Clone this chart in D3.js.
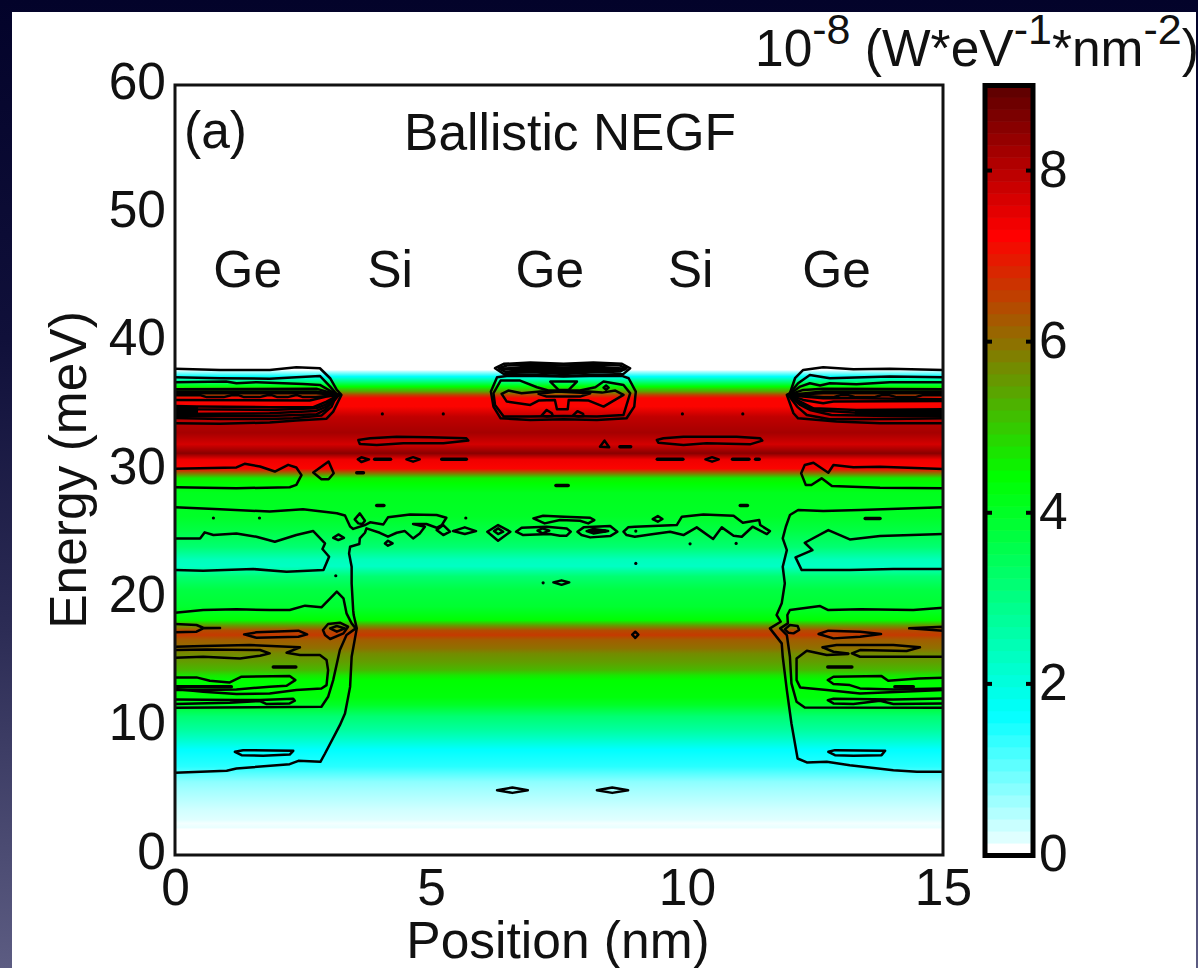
<!DOCTYPE html>
<html><head><meta charset="utf-8">
<style>html,body{margin:0;padding:0;background:#05052a;overflow:hidden}svg{display:block}text{font-family:"Liberation Sans",Arial,sans-serif;fill:#111}</style>
<script src="https://cdn.jsdelivr.net/npm/d3@7"></script>
</head><body><svg id="c" width="1198" height="968"></svg>
<script>
// ---- data ----
const xTicks=[0,5,10,15];
const yTicks=[0,10,20,30,40,50,60];
const barTicks=[0,2,4,6,8];
const regionLabels=[["Ge",1.42],["Si",4.2],["Ge",7.32],["Si",10.07],["Ge",12.92]];
const energies=[0,2.0,2.15,2.47,2.73,3.5,4,5.05,5.7,6.36,6.9,8.2,8.96,9.74,10.8,11.7,12.3,13.6,14,14.4,15.06,15.7,16.1,16.75,17.14,17.5,17.9,18.3,19.35,20.65,21.7,22.5,23,24,25.3,26.4,28.2,28.97,29.36,29.75,30.1,30.8,31.3,32,32.9,34.15,34.95,35.6,35.85,36.1,36.5,36.9,37.28,37.67,37.8];
const intensity=[0,0,.14,.08,.2,.3,.4,.6,.75,1.1,1.4,1.66,2.2,2.7,3.2,4.0,4.3,4.42,4.7,5.2,5.5,5.7,6,6.2,6.6,6.4,5.5,4.4,3.9,3.7,3.2,2.3,2.4,3.2,3.7,4,4.1,4.42,4.6,6,7.2,7.4,8.5,7.7,8.2,7.9,7.2,7.2,6.5,5.5,4.4,3,1.7,.5,0];
const colorStops=[0,1.66,4.42,7.24,9];
const colorValues=["#ffffff","#00ffff","#00ff00","#ff0000","#5a0000"];
const colorLevels=64;

// open contour lines (position nm, energy meV)
const leftGeLines=[
[[0,37.88],[.88,37.8],[1.85,37.8],[2.37,38],[2.83,37.93],[3.03,37.15],[3.16,36.24],[3.25,35.85],[3.09,34.55],[2.96,34],[2.37,33.85],[1.85,33.7],[.88,33.6],[0,33.65]],
[[0,37.23],[.88,37.15],[1.85,37.12],[2.37,37.23],[2.83,37.33],[3.03,36.5],[3.16,35.9],[3.06,34.94],[2.86,34.24],[2.31,34.03],[1.85,33.98],[.88,33.98],[0,34.06]],
[[0,36.84],[1,36.89],[1.2,36.76],[1.6,36.84],[2.5,36.71],[2.83,36.63],[3.09,36.03],[3.2,35.85],[3.12,35.46],[2.93,34.68],[2.76,34.34],[1.85,34.21],[0,34.21]],
[[0,36.29],[2.76,36.34],[3.03,36.03],[3.2,35.85],[2.96,34.94],[2.76,34.6],[1.85,34.42],[0,34.36]],
[[0,36.11],[2.76,36.11],[3.2,35.85],[2.93,35.07],[2.76,34.81],[1.85,34.68],[.42,34.73],[0,34.81]],
[[0,35.98],[2.76,35.98],[3.2,35.85]],
[[0,35.82],[.5,35.82],[.62,35.68],[.95,35.68],[1.1,35.82],[1.25,35.82],[1.35,35.68],[1.65,35.68],[1.8,35.82],[1.9,35.82],[2,35.68],[2.2,35.68],[2.35,35.82],[2.4,35.82],[2.5,35.68],[2.75,35.68],[3.2,35.85]],
[[0,35.46],[2.63,35.41],[2.96,35.72],[3.2,35.85]],
[[0,34.99],[.42,34.94],[1.85,34.89],[2.7,34.89],[2.96,35.33],[3.2,35.85]],
[[0,34.55],[.42,34.55]],
[[0,30.09],[1.2,30.2],[1.36,30.48],[1.66,30.27],[1.95,29.88],[2.21,30.4],[2.37,30.2],[2.47,29.6],[2.37,28.84],[2.24,28.66],[1.2,28.58],[0,28.66]],
[[0,24.67],[.49,24.67],[.58,25.14],[.75,24.93],[1.2,25.06],[1.59,24.8],[1.95,24.41],[2.37,24.93],[2.7,25.24],[2.93,24.28],[2.88,23.84],[3.01,23.24],[2.9,22.2],[2.18,22.07],[1.53,22.28],[.55,22.15],[0,22.2]],
[[0,18.88],[.55,19.09],[1.2,19.14],[1.85,19.09],[2.24,19.09],[2.54,19.43],[2.86,19.3],[3.16,20.52],[3.29,20],[3.35,18.83],[3.45,18.05],[3.53,17.66],[3.35,17.14],[3.22,15.97],[3.09,13.63],[2.99,12.33],[2.86,11.55],[0,11.47]],
[[0,18],[.42,17.92],[.55,17.71],[.88,17.69],[.55,17.66],[.42,17.4],[0,17.35]],
[[0,16.23],[.55,16.28],[1.46,16.36],[2.44,16.18],[2.18,15.76],[2.44,15.58],[2.83,15.58],[2.96,15.19],[2.99,14.41],[2.96,13.24],[2.86,12.98],[2.37,12.85],[1.85,12.59],[1.2,12.54],[.55,12.72],[0,12.93]],
[[0,15.97],[.62,16.02],[1.66,15.97],[1.85,15.71],[1.66,15.53],[1.27,15.32],[.55,15.45],[0,15.37]],
[[0,13.84],[.42,13.84],[.68,13.58],[1.07,13.45],[1.3,13.89],[2.24,13.94],[2.35,13.63],[2.18,13.19],[1.85,13.11],[1.2,12.9],[.55,12.85],[0,12.85]],
[[0,12.12],[1.2,12.07],[1.66,12.07],[2.31,12.17],[2.34,12.02],[2.24,11.81],[1.79,11.76],[1.66,12],[1.07,11.86],[0,11.76]],
[[0,27.1],[.88,26.94],[1.85,26.76],[2.5,26.94],[3.16,26.63],[3.32,26.45],[3.42,25.6],[3.48,25.41],[3.71,25.71],[3.81,25.92],[4.07,25.76],[4.16,26.31],[4.59,26.54],[5.11,26.49],[5.3,26.28],[5.21,25.71],[5.11,25.5],[4.91,25.79],[4.65,25.79],[4.88,25.58],[4.78,25.06],[4.65,24.67],[4.49,25.24],[4.33,25.11],[4.16,24.8],[4,25.11],[3.74,25.45],[3.71,25.11],[3.61,24.67],[3.6,24.23],[3.42,24.02],[3.4,23.5],[3.45,22.46],[3.45,21.16],[3.48,19.08],[3.49,18.7],[3.55,17.66],[3.45,15.45],[3.42,13.1],[3.32,11.03],[3.22,10.12],[2.93,7.91],[2.84,7.26],[2.41,7.34],[2.24,7.08],[1.2,6.74],[1.01,6.56],[0,6.4]]
];
const rightGeLines=[
[[15,37.8],[13.96,37.88],[13.25,37.85],[12.66,38],[12.27,37.8],[12.11,37.15],[12.01,35.98],[11.95,35.85],[12.08,34.42],[12.17,34.03],[12.92,33.77],[13.77,33.64],[15,33.64]],
[[15,37.23],[13.96,37.28],[12.79,37.15],[12.4,37.41],[12.17,36.76],[11.98,35.85],[12.15,34.94],[12.34,34.29],[12.79,33.95],[13.96,33.98],[15,34.03]],
[[15,36.84],[13.96,36.84],[13.31,36.68],[12.79,36.76],[12.6,36.58],[12.4,36.76],[12.21,36.5],[11.98,35.85],[12.21,35.07],[12.4,34.68],[12.82,34.29],[13.96,34.21],[15,34.21]],
[[15,36.29],[12.66,36.34],[12.27,36.24],[11.98,35.85],[12.21,35.33],[12.47,34.81],[13.31,34.68],[15,34.73]],
[[15,36.11],[12.66,36.11],[11.98,35.85],[12.27,35.46],[12.66,35.2],[12.86,35.33],[15,35.38]],
[[15,35.98],[12.66,35.98],[11.98,35.85]],
[[15,35.82],[14.6,35.82],[14.45,35.68],[14.1,35.68],[13.95,35.82],[13.8,35.82],[13.65,35.68],[13.3,35.68],[13.15,35.82],[13,35.82],[12.85,35.68],[12.66,35.69],[11.98,35.85]],
[[15,35.51],[13.31,35.59],[12.66,35.59],[12.27,35.72],[11.98,35.85]],
[[15,34.5],[13.31,34.47],[12.6,34.63],[12.34,34.89],[11.98,35.85]],
[[15,34.6],[13.3,34.6]],
[[15,34.35],[13.3,34.35]],
[[15,30.08],[13.77,30.26],[13.25,30.21],[12.86,30.39],[12.76,29.79],[12.47,30.57],[12.3,30.39],[12.23,29.74],[12.32,28.83],[12.43,28.83],[12.63,29.35],[12.83,28.75],[13.77,28.62],[15,28.57]],
[[15,27.09],[13.38,26.88],[12.66,26.8],[12.17,26.88],[12.01,26.49],[11.93,25.58],[11.87,24.67],[11.95,23.76],[11.87,22.46],[11.91,21.16],[11.85,19.61],[11.75,18.7],[11.83,18.18],[11.62,17.66],[11.85,16.49],[11.87,15.45],[11.95,12.85],[12.04,10.25],[12.16,7.52],[12.34,7.21],[12.73,7.26],[13.18,7],[14.03,6.61],[14.49,6.48],[15,6.48]],
[[15,25.01],[13.77,24.85],[13.18,24.59],[12.76,25.32],[12.3,24.33],[12.45,23.76],[12.12,23.19],[12.24,22.2],[13.18,22.2],[14.03,22.28],[15,22.28]],
[[15,19.27],[14.42,19.09],[13.4,19.14],[12.76,19.09],[12.6,19.4],[12.01,19.09],[11.96,18.7],[11.97,18.05],[11.82,17.66],[11.95,17.14],[12.01,15.45],[12.04,13.37],[12.14,11.94],[12.3,11.5],[15,11.47]],
[[14.34,17.66],[15,17.79],[15,17.48],[14.34,17.66]],
[[12.65,16.18],[12.92,16.36],[14.03,16.36],[14.55,16.18],[14.29,15.89],[13.38,15.97],[13.22,15.71],[13.38,15.45],[15,15.45]],
[[12.65,16.18],[12.86,15.84],[13.15,15.71]],
[[13.15,15.66],[12.73,15.58],[12.34,15.92],[12.14,15.32],[12.14,13.63],[12.21,13.06],[12.73,12.85],[13.38,12.59],[15,12.85]],
[[15,13.81],[14.52,13.76],[13.93,13.58],[13.8,13.94],[12.86,13.89],[12.75,13.63],[12.86,13.32],[13.18,13.24],[13.38,12.98],[14.03,12.9],[15,12.98]],
[[15,12.2],[14.03,12.12],[12.86,12.17],[12.75,12.07],[12.86,11.81],[13.25,11.76],[13.77,12.02],[14.03,11.76],[15,11.81]]
];
// closed contour loops
const siliconLoops=[
[[2.7,29.8],[3,30.66],[3.1,29.75],[3,29.28],[2.86,29.28]],
[[3.09,24.72],[3.19,24.98],[3.3,24.72],[3.19,24.54]],
[[2.89,17.53],[2.99,18],[3.22,18.1],[3.38,17.79],[3.29,17.27],[3.03,16.83],[2.93,17.14]],
[[3.03,17.66],[3.16,17.84],[3.32,17.66],[3.16,17.4]],
[[1.35,17.19],[1.59,17.35],[2.41,17.48],[2.58,17.19],[2.41,17.01],[1.59,16.93]],
[[1.17,8.04],[1.33,8.17],[2.31,8.12],[2.24,7.83],[1.72,7.73],[1.3,7.78]],
[[6.29,5.05],[6.59,5.26],[6.89,5.05],[6.59,4.84]],
[[8.24,5.05],[8.54,5.26],[8.85,5.05],[8.54,4.84]],
[[8.93,17.17],[8.99,17.4],[9.05,17.17],[8.99,16.91]],
[[3.58,32.34],[3.81,32.47],[4.33,32.6],[4.98,32.55],[5.69,32.47],[5.73,32.29],[5.24,32.08],[4.46,32.08],[3.94,31.95],[3.61,32.03]],
[[3.57,30.83],[3.64,30.99],[3.79,30.83],[3.64,30.62]],
[[4.52,30.83],[4.65,31],[4.78,30.83],[4.65,30.65]],
[[3.51,26.15],[3.61,26.62],[3.71,26.05],[3.66,25.79],[3.58,25.84]],
[[4.1,24.28],[4.16,24.49],[4.25,24.28],[4.16,24.1]],
[[5.11,25.32],[5.24,25.71],[5.37,25.19],[5.24,24.93]],
[[5.43,25.24],[5.66,25.53],[5.88,25.24],[5.66,25.01]],
[[6.1,25.19],[6.31,25.71],[6.55,25.19],[6.31,24.49]],
[[6.23,25.24],[6.31,25.45],[6.41,25.19],[6.31,25.01]],
[[6.66,25.19],[6.77,25.5],[7.26,25.58],[7.65,25.45],[7.73,25.19],[7.65,24.88],[7.52,24.88],[7.32,25.01],[6.8,24.93]],
[[7.08,25.27],[7.18,25.45],[7.31,25.27],[7.18,25.06]],
[[7,26.23],[7.19,26.44],[7.6,26.36],[8.11,26.28],[8.19,26.1],[8.07,25.84],[7.91,26.05],[7.52,26.1],[7.22,25.84]],
[[7.39,21.24],[7.55,21.4],[7.7,21.24],[7.55,21.05]],
[[7.86,25.19],[7.98,25.53],[8.5,25.63],[8.64,25.19],[8.5,24.85],[8.11,24.75],[7.94,24.93]],
[[8.04,25.24],[8.17,25.4],[8.46,25.24],[8.17,25.06]],
[[8.76,25.19],[8.85,25.53],[8.98,25.58],[9.8,25.71],[9.9,26.36],[10.32,26.54],[10.91,26.44],[11.09,25.89],[11.41,26.1],[11.43,25.71],[11.62,25.24],[11.56,25.01],[11.28,25.58],[11.07,24.8],[10.91,24.88],[10.68,25.53],[10.51,24.62],[10.19,25.53],[9.93,24.93],[9.67,25.19],[9.28,24.98],[8.98,24.8],[8.82,24.93]],
[[9.33,26.18],[9.43,26.41],[9.52,26.18],[9.43,25.97]],
[[8.3,31.82],[8.39,32.29],[8.48,31.77]],
[[9.41,32.34],[9.54,32.47],[9.93,32.6],[10.97,32.6],[11.43,32.47],[11.47,32.29],[11.23,32],[10.38,32.08],[9.93,31.95],[9.44,32.13]],
[[10.36,30.83],[10.49,31],[10.62,30.83],[10.49,30.65]],
[[12.57,17.22],[12.76,17.48],[13.38,17.4],[13.79,17.22],[13.38,17.01],[12.86,16.88]],
[[11.91,17.58],[12.01,17.92],[12.16,17.84],[12.19,17.53],[12.08,17.27],[11.98,17.32]],
[[12.76,8.04],[12.89,8.17],[13.87,8.12],[13.8,7.78],[13.25,7.73],[12.89,7.78]]
];
const centerGeLoops=[
[[6.25,37.93],[6.42,38.27],[6.94,38.37],[7.59,38.27],[8.17,38.37],[8.73,38.27],[8.89,37.93],[8.76,37.49],[8.11,37.41],[7.59,37.33],[7.13,37.41],[6.42,37.49]],
[[6.32,37.93],[6.48,38.14],[6.94,38.22],[7.59,38.14],[8.17,38.22],[8.69,38.14],[8.82,37.93],[8.69,37.67],[8.11,37.59],[7.59,37.49],[7.07,37.59],[6.45,37.64]],
[[6.42,37.9],[6.94,38.06],[7.59,37.98],[8.17,38.06],[8.73,37.9],[8.11,37.75],[7.59,37.67],[7.07,37.75]],
[[6.55,37.88],[7.59,37.85],[8.56,37.88],[7.59,37.8]],
[[6.37,37.86],[6.94,37.98],[7.59,37.9],[8.17,37.98],[8.8,37.86],[8.11,37.66],[7.59,37.58],[7.07,37.66]],
[[6.29,37.23],[6.17,36.11],[6.22,34.94],[6.36,34.03],[6.94,33.9],[7.59,33.95],[8.24,33.9],[8.82,34.03],[8.97,34.94],[9,36.11],[8.86,37.15],[8.73,37.33],[8.11,37.33],[7.59,37.28],[7.07,37.33],[6.48,37.33]],
[[6.22,35.98],[6.36,36.97],[6.74,36.97],[7.07,36.45],[7.29,36.19],[7.91,36.19],[8.21,36.45],[8.37,36.89],[8.76,36.63],[8.89,35.98],[8.82,35.07],[8.76,34.29],[8.24,34.16],[7.59,34.21],[6.94,34.16],[6.42,34.16],[6.25,35.07]],
[[6.38,35.93],[6.51,36.19],[6.77,35.98],[7.13,36.11],[8.08,36.11],[8.34,36.03],[8.6,36.19],[8.76,35.85],[8.37,34.94],[8.08,35.41],[7.69,35.46],[7.67,34.73],[7.46,34.73],[7.42,35.46],[7.1,35.41],[6.94,35.07],[6.48,35.33]],
[[7.1,35.93],[7.46,36.11],[8.11,35.98],[7.91,35.72],[7.26,35.72]],
[[7.33,36.89],[7.85,36.89],[7.69,36.24],[7.49,36.24]],
[[8.37,36.42],[8.42,36.58],[8.47,36.42],[8.42,36.24]],
[[7.16,34.24],[7.26,34.68],[7.36,34.42],[7.38,34.21],[7.26,34.16]],
[[7.77,34.24],[7.86,34.58],[7.97,34.37],[7.98,34.21],[7.88,34.16]]
];
// flat contours: [x start, x end, energy]
const flatContours=[[1.92,2.36,14.64],[0,1.1,13.11],[3.9,4.21,30.83],[5.21,5.69,30.83],[3.55,3.68,29.79],[3.94,4.08,27.24],[7.44,7.68,28.8],[8.69,8.9,31.82],[9.42,9.92,30.83],[10.89,11.21,30.83],[11.34,11.41,30.83],[11.04,11.18,27.24],[13.48,13.77,26.23],[12.75,13.22,14.64],[14.06,14.42,13.11],[0,.42,34.85],[0,.42,34.62],[0,.42,34.42],[8.1,8.4,25.24]];
const specks=[[3.14,21.76],[4.05,34.37],[5.24,34.37],[.75,26.26],[1.65,26.26],[5.68,26.26],[7.19,21.21],[9,25.24],[10.06,24.25],[10.96,24.28],[9,22.72],[9.91,34.37],[11.09,34.37]];

// ---- layout ----
const P={l:175,r:943,t:85,b:855};
const B={l:987,r:1031};
const svg=d3.select("#c");
const x=d3.scaleLinear().domain([0,15]).range([P.l,P.r]);
const y=d3.scaleLinear().domain([0,60]).range([P.b,P.t]);
const by=d3.scaleLinear().domain([0,9]).range([855,85]);
const color=d3.scaleLinear().domain(colorStops).range(colorValues).interpolate(d3.interpolateRgb);
const defs=svg.append("defs");

// page backdrop
const bg=defs.append("linearGradient").attr("id","bg").attr("x1",0).attr("x2",0).attr("y1",0).attr("y2",1);
[[0,"#03032a"],[.35,"#10103a"],[.65,"#2c2c55"],[1,"#5c5c82"]].forEach(d=>bg.append("stop").attr("offset",d[0]).attr("stop-color",d[1]));
svg.append("rect").attr("width",1198).attr("height",968).attr("fill","url(#bg)");
svg.append("rect").attr("x",12).attr("y",12).attr("width",1184).attr("height",956).attr("fill","#fff");

// heat map: one gradient along energy
const eMax=d3.max(energies);
const grad=defs.append("linearGradient").attr("id","spectrum").attr("gradientUnits","userSpaceOnUse")
 .attr("x1",0).attr("x2",0).attr("y1",y(0)).attr("y2",y(eMax));
grad.selectAll("stop").data(energies).join("stop").attr("offset",d=>d/eMax).attr("stop-color",(d,i)=>color(intensity[i]));
svg.append("rect").attr("x",P.l).attr("width",P.r-P.l).attr("y",y(eMax)).attr("height",y(0)-y(eMax)).attr("fill","url(#spectrum)");

// contours
defs.append("clipPath").attr("id","plot").append("rect").attr("x",P.l).attr("y",P.t).attr("width",P.r-P.l).attr("height",P.b-P.t);
const g=svg.append("g").attr("clip-path","url(#plot)").attr("fill","none").attr("stroke","#000").attr("stroke-width",2.5).attr("stroke-linejoin","round").attr("stroke-linecap","round");
const open=d3.line().x(d=>x(d[0])).y(d=>y(d[1]));
const closed=d3.line().x(d=>x(d[0])).y(d=>y(d[1])).curve(d3.curveLinearClosed);
g.selectAll("path.o").data(leftGeLines.concat(rightGeLines)).join("path").attr("class","o").attr("d",open);
g.selectAll("path.c").data(siliconLoops.concat(centerGeLoops)).join("path").attr("class","c").attr("d",closed);
g.selectAll("line").data(flatContours).join("line").attr("x1",d=>x(d[0])).attr("x2",d=>x(d[1])).attr("y1",d=>y(d[2])).attr("y2",d=>y(d[2])).attr("stroke-width",3.5);
g.selectAll("circle").data(specks).join("circle").attr("cx",d=>x(d[0])).attr("cy",d=>y(d[1])).attr("r",1.6).attr("fill","#000").attr("stroke","none");

// frame and axes
svg.append("rect").attr("x",P.l).attr("y",P.t).attr("width",P.r-P.l).attr("height",P.b-P.t).attr("fill","none").attr("stroke","#111").attr("stroke-width",3);
const FS=51.5;
const ax=svg.append("g").attr("transform",`translate(0,${P.b})`).call(d3.axisBottom(x).tickValues(xTicks).tickSize(0).tickFormat(d3.format("d")));
ax.select(".domain").remove();
ax.selectAll("text").attr("y",50).attr("dy",0).attr("font-size",FS).style("font-family",'"Liberation Sans"').style("fill","#111");
const ay=svg.append("g").attr("transform",`translate(${P.l},0)`).call(d3.axisLeft(y).tickValues(yTicks).tickSize(0).tickFormat(d3.format("d")));
ay.select(".domain").remove();
ay.selectAll("text").attr("x",-9).attr("dy",0).attr("y",13).attr("font-size",FS).style("font-family",'"Liberation Sans"').style("fill","#111");

svg.append("text").attr("x",558).attr("y",958).attr("text-anchor","middle").attr("font-size",FS).text("Position (nm)");
svg.append("text").attr("transform","translate(86,470) rotate(-90)").attr("text-anchor","middle").attr("font-size",FS).text("Energy (meV)");
svg.append("text").attr("x",184).attr("y",148).attr("font-size",FS).text("(a)");
svg.append("text").attr("x",570).attr("y",150).attr("text-anchor","middle").attr("font-size",FS).text("Ballistic NEGF");
svg.selectAll("text.region").data(regionLabels).join("text").attr("class","region").attr("x",d=>x(d[1])).attr("y",287).attr("text-anchor","middle").attr("font-size",FS).text(d=>d[0]);

// colour bar
const step=9/colorLevels;
svg.append("g").selectAll("rect").data(d3.range(colorLevels)).join("rect")
 .attr("x",B.l).attr("width",B.r-B.l).attr("y",d=>by((d+1)*step)).attr("height",d=>by(d*step)-by((d+1)*step)+.6)
 .attr("fill",d=>color(d===0?0:(d+.5)*step));
svg.append("rect").attr("x",985).attr("y",by(9)+.5).attr("width",48).attr("height",by(0)-by(9)).attr("fill","none").attr("stroke","#000").attr("stroke-width",5);
const bt=svg.append("g").selectAll("g").data(barTicks).join("g");
bt.filter(d=>d>0).append("line").attr("x1",B.l).attr("x2",B.l+5).attr("y1",d=>by(d)).attr("y2",d=>by(d)).attr("stroke","#000").attr("stroke-width",4);
bt.filter(d=>d>0).append("line").attr("x1",B.r-5).attr("x2",B.r).attr("y1",d=>by(d)).attr("y2",d=>by(d)).attr("stroke","#000").attr("stroke-width",4);
bt.append("text").attr("x",1039).attr("y",d=>by(d)+16).attr("font-size",FS).text(d=>d);

// unit
const u=svg.append("text").attr("x",755).attr("y",66).attr("font-size",FS);
const sup=t=>u.append("tspan").attr("font-size",43).attr("dy",-22).text(t);
const base=t=>u.append("tspan").attr("font-size",FS).attr("dy",22).text(t);
u.append("tspan").text("10");sup("-8");base(" (W*eV");sup("-1");base("*nm");sup("-2");base(")");
</script></body></html>
